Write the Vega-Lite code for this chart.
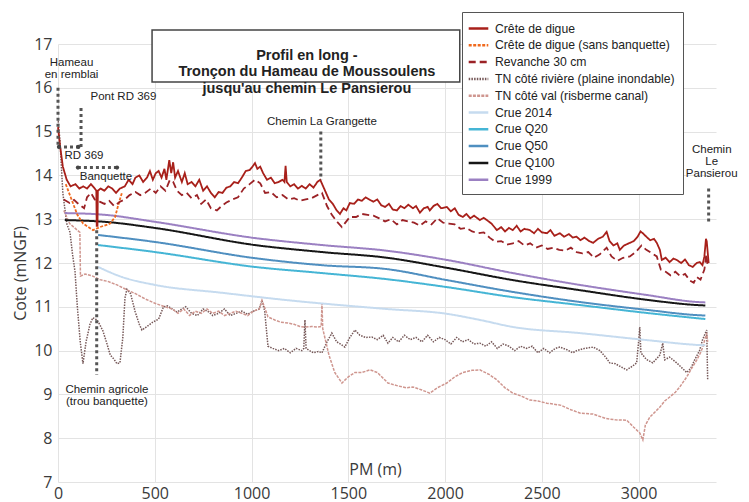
{
"$schema":"https://vega.github.io/schema/vega-lite/v6.json",
"width":658,"height":438,
"autosize":{"type":"none"},
"padding":{"left":58,"top":44,"right":33,"bottom":20},
"background":"white",
"config":{
 "view":{"stroke":null},
 "font":"Liberation Sans",
 "axis":{"grid":true,"gridColor":"#e3e3e3","gridWidth":1,"domain":false,"ticks":false,"labelFont":"Open Sans","labelFontSize":16,"labelColor":"#3a3a3a","titleFont":"Open Sans","titleFontSize":16,"titleFontWeight":"normal","titleColor":"#3a3a3a"}
},
"data":{"values":[
{"s":"C","pm":0,"z":15.1},{"s":"C","pm":10,"z":14.7},{"s":"C","pm":25,"z":14.2},{"s":"C","pm":45,"z":13.9},{"s":"C","pm":65,"z":13.75},{"s":"C","pm":90,"z":13.8},{"s":"C","pm":110,"z":13.7},{"s":"C","pm":130,"z":13.75},{"s":"C","pm":150,"z":13.7},{"s":"C","pm":170,"z":13.8},{"s":"C","pm":190,"z":13.7},{"s":"C","pm":198,"z":13.65},{"s":"C","pm":200,"z":12.85},{"s":"C","pm":204,"z":12.85},{"s":"C","pm":206,"z":13.65},{"s":"C","pm":220,"z":13.7},{"s":"C","pm":240,"z":13.65},{"s":"C","pm":260,"z":13.75},{"s":"C","pm":280,"z":13.7},{"s":"C","pm":300,"z":13.6},{"s":"C","pm":320,"z":13.7},{"s":"C","pm":345,"z":13.75},{"s":"C","pm":365,"z":13.9},{"s":"C","pm":385,"z":13.8},{"s":"C","pm":400,"z":13.95},{"s":"C","pm":420,"z":14.0},{"s":"C","pm":440,"z":13.85},{"s":"C","pm":460,"z":13.95},{"s":"C","pm":475,"z":14.1},{"s":"C","pm":490,"z":13.9},{"s":"C","pm":505,"z":14.05},{"s":"C","pm":520,"z":14.1},{"s":"C","pm":535,"z":13.95},{"s":"C","pm":550,"z":14.15},{"s":"C","pm":560,"z":13.9},{"s":"C","pm":575,"z":14.35},{"s":"C","pm":585,"z":14.05},{"s":"C","pm":595,"z":14.3},{"s":"C","pm":605,"z":13.95},{"s":"C","pm":620,"z":14.1},{"s":"C","pm":640,"z":13.85},{"s":"C","pm":655,"z":14.05},{"s":"C","pm":670,"z":13.8},{"s":"C","pm":690,"z":13.85},{"s":"C","pm":710,"z":13.75},{"s":"C","pm":730,"z":13.9},{"s":"C","pm":750,"z":13.65},{"s":"C","pm":770,"z":13.75},{"s":"C","pm":790,"z":13.6},{"s":"C","pm":810,"z":13.5},{"s":"C","pm":830,"z":13.62},{"s":"C","pm":850,"z":13.6},{"s":"C","pm":870,"z":13.72},{"s":"C","pm":890,"z":13.75},{"s":"C","pm":910,"z":13.85},{"s":"C","pm":930,"z":13.82},{"s":"C","pm":950,"z":13.95},{"s":"C","pm":970,"z":14.1},{"s":"C","pm":990,"z":14.12},{"s":"C","pm":1005,"z":14.2},{"s":"C","pm":1018,"z":14.28},{"s":"C","pm":1030,"z":14.15},{"s":"C","pm":1045,"z":14.2},{"s":"C","pm":1060,"z":14.05},{"s":"C","pm":1080,"z":13.9},{"s":"C","pm":1100,"z":13.95},{"s":"C","pm":1120,"z":13.82},{"s":"C","pm":1140,"z":13.85},{"s":"C","pm":1160,"z":13.9},{"s":"C","pm":1170,"z":13.85},{"s":"C","pm":1176,"z":14.22},{"s":"C","pm":1182,"z":13.85},{"s":"C","pm":1200,"z":13.75},{"s":"C","pm":1220,"z":13.8},{"s":"C","pm":1240,"z":13.7},{"s":"C","pm":1260,"z":13.76},{"s":"C","pm":1280,"z":13.7},{"s":"C","pm":1300,"z":13.8},{"s":"C","pm":1320,"z":13.72},{"s":"C","pm":1340,"z":13.85},{"s":"C","pm":1355,"z":13.9},{"s":"C","pm":1370,"z":13.75},{"s":"C","pm":1385,"z":13.6},{"s":"C","pm":1400,"z":13.45},{"s":"C","pm":1420,"z":13.35},{"s":"C","pm":1440,"z":13.2},{"s":"C","pm":1457,"z":13.12},{"s":"C","pm":1475,"z":13.25},{"s":"C","pm":1490,"z":13.2},{"s":"C","pm":1508,"z":13.37},{"s":"C","pm":1530,"z":13.35},{"s":"C","pm":1550,"z":13.45},{"s":"C","pm":1570,"z":13.42},{"s":"C","pm":1590,"z":13.5},{"s":"C","pm":1612,"z":13.44},{"s":"C","pm":1630,"z":13.4},{"s":"C","pm":1650,"z":13.45},{"s":"C","pm":1670,"z":13.32},{"s":"C","pm":1690,"z":13.28},{"s":"C","pm":1710,"z":13.35},{"s":"C","pm":1730,"z":13.22},{"s":"C","pm":1751,"z":13.2},{"s":"C","pm":1770,"z":13.3},{"s":"C","pm":1790,"z":13.25},{"s":"C","pm":1810,"z":13.33},{"s":"C","pm":1834,"z":13.25},{"s":"C","pm":1850,"z":13.3},{"s":"C","pm":1870,"z":13.15},{"s":"C","pm":1890,"z":13.25},{"s":"C","pm":1910,"z":13.28},{"s":"C","pm":1921,"z":13.2},{"s":"C","pm":1940,"z":13.3},{"s":"C","pm":1960,"z":13.35},{"s":"C","pm":1980,"z":13.25},{"s":"C","pm":2009,"z":13.28},{"s":"C","pm":2030,"z":13.18},{"s":"C","pm":2050,"z":13.25},{"s":"C","pm":2070,"z":13.1},{"s":"C","pm":2092,"z":13.05},{"s":"C","pm":2110,"z":13.12},{"s":"C","pm":2130,"z":13.02},{"s":"C","pm":2150,"z":13.08},{"s":"C","pm":2180,"z":12.98},{"s":"C","pm":2200,"z":13.03},{"s":"C","pm":2216,"z":12.98},{"s":"C","pm":2240,"z":12.9},{"s":"C","pm":2268,"z":12.75},{"s":"C","pm":2290,"z":12.82},{"s":"C","pm":2310,"z":12.72},{"s":"C","pm":2330,"z":12.8},{"s":"C","pm":2350,"z":12.75},{"s":"C","pm":2370,"z":12.85},{"s":"C","pm":2390,"z":12.72},{"s":"C","pm":2410,"z":12.78},{"s":"C","pm":2438,"z":12.75},{"s":"C","pm":2460,"z":12.68},{"s":"C","pm":2480,"z":12.78},{"s":"C","pm":2500,"z":12.7},{"s":"C","pm":2526,"z":12.68},{"s":"C","pm":2545,"z":12.75},{"s":"C","pm":2565,"z":12.62},{"s":"C","pm":2593,"z":12.68},{"s":"C","pm":2615,"z":12.6},{"s":"C","pm":2640,"z":12.66},{"s":"C","pm":2660,"z":12.58},{"s":"C","pm":2680,"z":12.6},{"s":"C","pm":2700,"z":12.52},{"s":"C","pm":2720,"z":12.58},{"s":"C","pm":2745,"z":12.5},{"s":"C","pm":2765,"z":12.46},{"s":"C","pm":2790,"z":12.55},{"s":"C","pm":2815,"z":12.6},{"s":"C","pm":2835,"z":12.71},{"s":"C","pm":2850,"z":12.5},{"s":"C","pm":2870,"z":12.4},{"s":"C","pm":2890,"z":12.45},{"s":"C","pm":2903,"z":12.3},{"s":"C","pm":2925,"z":12.4},{"s":"C","pm":2955,"z":12.46},{"s":"C","pm":2975,"z":12.5},{"s":"C","pm":2995,"z":12.6},{"s":"C","pm":3010,"z":12.72},{"s":"C","pm":3022,"z":12.68},{"s":"C","pm":3040,"z":12.6},{"s":"C","pm":3060,"z":12.52},{"s":"C","pm":3080,"z":12.55},{"s":"C","pm":3094,"z":12.46},{"s":"C","pm":3110,"z":12.3},{"s":"C","pm":3120,"z":12.07},{"s":"C","pm":3140,"z":12.12},{"s":"C","pm":3160,"z":12.02},{"s":"C","pm":3180,"z":12.1},{"s":"C","pm":3197,"z":12.07},{"s":"C","pm":3220,"z":12.0},{"s":"C","pm":3240,"z":12.08},{"s":"C","pm":3260,"z":11.95},{"s":"C","pm":3280,"z":11.91},{"s":"C","pm":3300,"z":12.0},{"s":"C","pm":3316,"z":12.02},{"s":"C","pm":3330,"z":11.95},{"s":"C","pm":3340,"z":12.15},{"s":"C","pm":3348,"z":12.55},{"s":"C","pm":3352,"z":12.5},{"s":"C","pm":3356,"z":12.3},{"s":"C","pm":3362,"z":12.0},
{"s":"S","pm":40,"z":13.8},{"s":"S","pm":70,"z":13.45},{"s":"S","pm":100,"z":13.1},{"s":"S","pm":130,"z":12.9},{"s":"S","pm":181,"z":12.75},{"s":"S","pm":217,"z":12.82},{"s":"S","pm":269,"z":12.9},{"s":"S","pm":295,"z":13.05},{"s":"S","pm":310,"z":13.3},{"s":"S","pm":330,"z":13.6},
{"s":"R","pm":30,"z":13.45},{"s":"R","pm":60,"z":13.37},{"s":"R","pm":83,"z":13.44},{"s":"R","pm":100,"z":13.37},{"s":"R","pm":120,"z":13.3},{"s":"R","pm":135,"z":13.25},{"s":"R","pm":150,"z":13.5},{"s":"R","pm":170,"z":13.6},{"s":"R","pm":190,"z":13.45},{"s":"R","pm":215,"z":13.4},{"s":"R","pm":240,"z":13.35},{"s":"R","pm":265,"z":13.42},{"s":"R","pm":290,"z":13.3},{"s":"R","pm":320,"z":13.4},{"s":"R","pm":345,"z":13.45},{"s":"R","pm":370,"z":13.55},{"s":"R","pm":400,"z":13.62},{"s":"R","pm":425,"z":13.55},{"s":"R","pm":450,"z":13.6},{"s":"R","pm":480,"z":13.7},{"s":"R","pm":505,"z":13.6},{"s":"R","pm":530,"z":13.75},{"s":"R","pm":555,"z":13.65},{"s":"R","pm":578,"z":13.9},{"s":"R","pm":595,"z":13.85},{"s":"R","pm":615,"z":13.65},{"s":"R","pm":640,"z":13.55},{"s":"R","pm":665,"z":13.6},{"s":"R","pm":690,"z":13.48},{"s":"R","pm":718,"z":13.55},{"s":"R","pm":740,"z":13.35},{"s":"R","pm":765,"z":13.45},{"s":"R","pm":790,"z":13.25},{"s":"R","pm":821,"z":13.2},{"s":"R","pm":845,"z":13.3},{"s":"R","pm":870,"z":13.38},{"s":"R","pm":900,"z":13.45},{"s":"R","pm":930,"z":13.5},{"s":"R","pm":960,"z":13.7},{"s":"R","pm":990,"z":13.8},{"s":"R","pm":1018,"z":13.9},{"s":"R","pm":1045,"z":13.82},{"s":"R","pm":1070,"z":13.6},{"s":"R","pm":1100,"z":13.62},{"s":"R","pm":1130,"z":13.5},{"s":"R","pm":1160,"z":13.55},{"s":"R","pm":1190,"z":13.45},{"s":"R","pm":1220,"z":13.48},{"s":"R","pm":1250,"z":13.42},{"s":"R","pm":1280,"z":13.45},{"s":"R","pm":1310,"z":13.48},{"s":"R","pm":1340,"z":13.55},{"s":"R","pm":1364,"z":13.6},{"s":"R","pm":1390,"z":13.3},{"s":"R","pm":1415,"z":13.1},{"s":"R","pm":1440,"z":12.95},{"s":"R","pm":1467,"z":12.82},{"s":"R","pm":1490,"z":12.95},{"s":"R","pm":1508,"z":13.05},{"s":"R","pm":1540,"z":13.05},{"s":"R","pm":1570,"z":13.12},{"s":"R","pm":1600,"z":13.1},{"s":"R","pm":1630,"z":13.08},{"s":"R","pm":1660,"z":13.02},{"s":"R","pm":1690,"z":12.95},{"s":"R","pm":1720,"z":13.0},{"s":"R","pm":1751,"z":12.88},{"s":"R","pm":1780,"z":12.98},{"s":"R","pm":1810,"z":12.95},{"s":"R","pm":1840,"z":12.92},{"s":"R","pm":1870,"z":12.85},{"s":"R","pm":1900,"z":12.95},{"s":"R","pm":1930,"z":12.88},{"s":"R","pm":1960,"z":13.02},{"s":"R","pm":1990,"z":12.92},{"s":"R","pm":2020,"z":12.9},{"s":"R","pm":2050,"z":12.88},{"s":"R","pm":2080,"z":12.78},{"s":"R","pm":2110,"z":12.8},{"s":"R","pm":2140,"z":12.72},{"s":"R","pm":2170,"z":12.68},{"s":"R","pm":2200,"z":12.7},{"s":"R","pm":2230,"z":12.58},{"s":"R","pm":2260,"z":12.48},{"s":"R","pm":2290,"z":12.5},{"s":"R","pm":2320,"z":12.42},{"s":"R","pm":2350,"z":12.45},{"s":"R","pm":2380,"z":12.5},{"s":"R","pm":2410,"z":12.4},{"s":"R","pm":2440,"z":12.45},{"s":"R","pm":2470,"z":12.35},{"s":"R","pm":2500,"z":12.4},{"s":"R","pm":2530,"z":12.32},{"s":"R","pm":2560,"z":12.35},{"s":"R","pm":2590,"z":12.3},{"s":"R","pm":2620,"z":12.28},{"s":"R","pm":2650,"z":12.35},{"s":"R","pm":2680,"z":12.25},{"s":"R","pm":2710,"z":12.22},{"s":"R","pm":2740,"z":12.25},{"s":"R","pm":2770,"z":12.12},{"s":"R","pm":2800,"z":12.2},{"s":"R","pm":2835,"z":12.35},{"s":"R","pm":2860,"z":12.15},{"s":"R","pm":2890,"z":12.05},{"s":"R","pm":2920,"z":12.12},{"s":"R","pm":2955,"z":12.15},{"s":"R","pm":2985,"z":12.25},{"s":"R","pm":3015,"z":12.4},{"s":"R","pm":3040,"z":12.3},{"s":"R","pm":3070,"z":12.22},{"s":"R","pm":3094,"z":12.15},{"s":"R","pm":3115,"z":11.85},{"s":"R","pm":3140,"z":11.8},{"s":"R","pm":3165,"z":11.72},{"s":"R","pm":3190,"z":11.8},{"s":"R","pm":3215,"z":11.7},{"s":"R","pm":3240,"z":11.75},{"s":"R","pm":3265,"z":11.6},{"s":"R","pm":3285,"z":11.55},{"s":"R","pm":3300,"z":11.68},{"s":"R","pm":3320,"z":11.62},{"s":"R","pm":3340,"z":11.85},{"s":"R","pm":3350,"z":12.2},{"s":"R","pm":3358,"z":11.9},
{"s":"TR","pm":0,"z":15.3},{"s":"TR","pm":10,"z":14.8},{"s":"TR","pm":25,"z":13.6},{"s":"TR","pm":45,"z":12.9},{"s":"TR","pm":62,"z":12.7},{"s":"TR","pm":75,"z":12.2},{"s":"TR","pm":88,"z":11.8},{"s":"TR","pm":100,"z":11.0},{"s":"TR","pm":115,"z":10.2},{"s":"TR","pm":129,"z":9.7},{"s":"TR","pm":145,"z":10.2},{"s":"TR","pm":165,"z":10.6},{"s":"TR","pm":180,"z":10.75},{"s":"TR","pm":201,"z":10.7},{"s":"TR","pm":215,"z":10.6},{"s":"TR","pm":232,"z":10.45},{"s":"TR","pm":250,"z":10.2},{"s":"TR","pm":270,"z":9.9},{"s":"TR","pm":290,"z":9.8},{"s":"TR","pm":305,"z":9.7},{"s":"TR","pm":320,"z":9.72},{"s":"TR","pm":335,"z":10.3},{"s":"TR","pm":346,"z":11.2},{"s":"TR","pm":356,"z":11.4},{"s":"TR","pm":375,"z":11.3},{"s":"TR","pm":398,"z":10.9},{"s":"TR","pm":420,"z":10.6},{"s":"TR","pm":434,"z":10.47},{"s":"TR","pm":460,"z":10.55},{"s":"TR","pm":490,"z":10.65},{"s":"TR","pm":520,"z":10.72},{"s":"TR","pm":545,"z":11.0},{"s":"TR","pm":565,"z":11.02},{"s":"TR","pm":590,"z":10.95},{"s":"TR","pm":615,"z":10.88},{"s":"TR","pm":640,"z":10.95},{"s":"TR","pm":660,"z":11.0},{"s":"TR","pm":690,"z":10.85},{"s":"TR","pm":720,"z":10.8},{"s":"TR","pm":750,"z":10.95},{"s":"TR","pm":780,"z":10.88},{"s":"TR","pm":800,"z":10.8},{"s":"TR","pm":830,"z":10.85},{"s":"TR","pm":860,"z":10.95},{"s":"TR","pm":890,"z":10.8},{"s":"TR","pm":920,"z":10.85},{"s":"TR","pm":950,"z":10.9},{"s":"TR","pm":980,"z":10.83},{"s":"TR","pm":1010,"z":10.9},{"s":"TR","pm":1040,"z":10.95},{"s":"TR","pm":1054,"z":11.15},{"s":"TR","pm":1068,"z":10.9},{"s":"TR","pm":1085,"z":10.1},{"s":"TR","pm":1110,"z":10.05},{"s":"TR","pm":1140,"z":10.0},{"s":"TR","pm":1170,"z":10.05},{"s":"TR","pm":1200,"z":9.95},{"s":"TR","pm":1230,"z":10.05},{"s":"TR","pm":1260,"z":10.0},{"s":"TR","pm":1270,"z":10.05},{"s":"TR","pm":1276,"z":10.7},{"s":"TR","pm":1282,"z":10.05},{"s":"TR","pm":1300,"z":10.0},{"s":"TR","pm":1320,"z":9.95},{"s":"TR","pm":1345,"z":9.98},{"s":"TR","pm":1364,"z":9.95},{"s":"TR","pm":1390,"z":10.2},{"s":"TR","pm":1415,"z":10.4},{"s":"TR","pm":1440,"z":10.2},{"s":"TR","pm":1460,"z":10.15},{"s":"TR","pm":1482,"z":10.08},{"s":"TR","pm":1508,"z":10.3},{"s":"TR","pm":1534,"z":10.47},{"s":"TR","pm":1560,"z":10.35},{"s":"TR","pm":1590,"z":10.3},{"s":"TR","pm":1622,"z":10.31},{"s":"TR","pm":1650,"z":10.25},{"s":"TR","pm":1680,"z":10.35},{"s":"TR","pm":1705,"z":10.17},{"s":"TR","pm":1730,"z":10.3},{"s":"TR","pm":1760,"z":10.2},{"s":"TR","pm":1790,"z":10.35},{"s":"TR","pm":1820,"z":10.25},{"s":"TR","pm":1850,"z":10.3},{"s":"TR","pm":1880,"z":10.2},{"s":"TR","pm":1910,"z":10.35},{"s":"TR","pm":1940,"z":10.2},{"s":"TR","pm":1970,"z":10.3},{"s":"TR","pm":2000,"z":10.25},{"s":"TR","pm":2030,"z":10.15},{"s":"TR","pm":2060,"z":10.3},{"s":"TR","pm":2090,"z":10.2},{"s":"TR","pm":2120,"z":10.25},{"s":"TR","pm":2150,"z":10.15},{"s":"TR","pm":2180,"z":10.17},{"s":"TR","pm":2210,"z":10.1},{"s":"TR","pm":2240,"z":10.2},{"s":"TR","pm":2270,"z":10.05},{"s":"TR","pm":2300,"z":10.15},{"s":"TR","pm":2330,"z":10.1},{"s":"TR","pm":2360,"z":10.0},{"s":"TR","pm":2390,"z":10.1},{"s":"TR","pm":2420,"z":10.05},{"s":"TR","pm":2450,"z":10.1},{"s":"TR","pm":2480,"z":9.95},{"s":"TR","pm":2510,"z":10.05},{"s":"TR","pm":2540,"z":9.95},{"s":"TR","pm":2570,"z":10.05},{"s":"TR","pm":2593,"z":10.08},{"s":"TR","pm":2630,"z":10.02},{"s":"TR","pm":2660,"z":9.95},{"s":"TR","pm":2680,"z":10.0},{"s":"TR","pm":2720,"z":10.05},{"s":"TR","pm":2765,"z":10.08},{"s":"TR","pm":2800,"z":10.0},{"s":"TR","pm":2830,"z":9.85},{"s":"TR","pm":2851,"z":9.72},{"s":"TR","pm":2880,"z":9.7},{"s":"TR","pm":2900,"z":9.65},{"s":"TR","pm":2939,"z":9.56},{"s":"TR","pm":2970,"z":9.65},{"s":"TR","pm":2990,"z":9.72},{"s":"TR","pm":3000,"z":10.2},{"s":"TR","pm":3006,"z":10.54},{"s":"TR","pm":3012,"z":9.95},{"s":"TR","pm":3040,"z":9.8},{"s":"TR","pm":3073,"z":9.72},{"s":"TR","pm":3100,"z":9.85},{"s":"TR","pm":3110,"z":9.9},{"s":"TR","pm":3125,"z":10.17},{"s":"TR","pm":3135,"z":9.79},{"s":"TR","pm":3160,"z":9.85},{"s":"TR","pm":3197,"z":9.72},{"s":"TR","pm":3225,"z":9.6},{"s":"TR","pm":3249,"z":9.5},{"s":"TR","pm":3270,"z":9.6},{"s":"TR","pm":3290,"z":9.79},{"s":"TR","pm":3315,"z":10.0},{"s":"TR","pm":3330,"z":10.24},{"s":"TR","pm":3352,"z":10.47},{"s":"TR","pm":3357,"z":9.33},
{"s":"TV","pm":30,"z":13.2},{"s":"TV","pm":60,"z":12.9},{"s":"TV","pm":100,"z":12.75},{"s":"TV","pm":113,"z":12.7},{"s":"TV","pm":116,"z":11.7},{"s":"TV","pm":140,"z":11.75},{"s":"TV","pm":180,"z":11.7},{"s":"TV","pm":217,"z":11.62},{"s":"TV","pm":258,"z":11.58},{"s":"TV","pm":305,"z":11.5},{"s":"TV","pm":350,"z":11.4},{"s":"TV","pm":400,"z":11.3},{"s":"TV","pm":450,"z":11.18},{"s":"TV","pm":501,"z":11.08},{"s":"TV","pm":553,"z":11.0},{"s":"TV","pm":590,"z":10.95},{"s":"TV","pm":620,"z":10.85},{"s":"TV","pm":650,"z":10.95},{"s":"TV","pm":680,"z":10.8},{"s":"TV","pm":710,"z":10.9},{"s":"TV","pm":740,"z":10.85},{"s":"TV","pm":770,"z":10.95},{"s":"TV","pm":800,"z":10.85},{"s":"TV","pm":830,"z":10.9},{"s":"TV","pm":860,"z":10.8},{"s":"TV","pm":890,"z":10.85},{"s":"TV","pm":920,"z":10.9},{"s":"TV","pm":950,"z":10.85},{"s":"TV","pm":980,"z":10.8},{"s":"TV","pm":1010,"z":10.9},{"s":"TV","pm":1040,"z":10.95},{"s":"TV","pm":1054,"z":11.15},{"s":"TV","pm":1085,"z":10.77},{"s":"TV","pm":1120,"z":10.7},{"s":"TV","pm":1150,"z":10.65},{"s":"TV","pm":1188,"z":10.63},{"s":"TV","pm":1220,"z":10.6},{"s":"TV","pm":1250,"z":10.55},{"s":"TV","pm":1276,"z":10.54},{"s":"TV","pm":1310,"z":10.55},{"s":"TV","pm":1343,"z":10.54},{"s":"TV","pm":1360,"z":10.55},{"s":"TV","pm":1364,"z":11.08},{"s":"TV","pm":1368,"z":10.5},{"s":"TV","pm":1400,"z":9.9},{"s":"TV","pm":1430,"z":9.5},{"s":"TV","pm":1467,"z":9.26},{"s":"TV","pm":1500,"z":9.4},{"s":"TV","pm":1534,"z":9.5},{"s":"TV","pm":1570,"z":9.5},{"s":"TV","pm":1612,"z":9.56},{"s":"TV","pm":1650,"z":9.5},{"s":"TV","pm":1705,"z":9.26},{"s":"TV","pm":1751,"z":9.2},{"s":"TV","pm":1800,"z":9.15},{"s":"TV","pm":1834,"z":9.17},{"s":"TV","pm":1880,"z":9.1},{"s":"TV","pm":1921,"z":9.03},{"s":"TV","pm":1960,"z":9.15},{"s":"TV","pm":2009,"z":9.26},{"s":"TV","pm":2050,"z":9.4},{"s":"TV","pm":2092,"z":9.5},{"s":"TV","pm":2140,"z":9.55},{"s":"TV","pm":2180,"z":9.56},{"s":"TV","pm":2230,"z":9.45},{"s":"TV","pm":2268,"z":9.33},{"s":"TV","pm":2310,"z":9.15},{"s":"TV","pm":2350,"z":9.03},{"s":"TV","pm":2400,"z":8.95},{"s":"TV","pm":2438,"z":8.87},{"s":"TV","pm":2480,"z":8.85},{"s":"TV","pm":2526,"z":8.8},{"s":"TV","pm":2560,"z":8.78},{"s":"TV","pm":2600,"z":8.75},{"s":"TV","pm":2650,"z":8.65},{"s":"TV","pm":2700,"z":8.57},{"s":"TV","pm":2765,"z":8.55},{"s":"TV","pm":2830,"z":8.45},{"s":"TV","pm":2880,"z":8.42},{"s":"TV","pm":2939,"z":8.41},{"s":"TV","pm":2975,"z":8.25},{"s":"TV","pm":3006,"z":8.12},{"s":"TV","pm":3022,"z":7.96},{"s":"TV","pm":3035,"z":8.3},{"s":"TV","pm":3058,"z":8.48},{"s":"TV","pm":3085,"z":8.6},{"s":"TV","pm":3110,"z":8.71},{"s":"TV","pm":3135,"z":8.85},{"s":"TV","pm":3161,"z":8.94},{"s":"TV","pm":3190,"z":9.05},{"s":"TV","pm":3213,"z":9.17},{"s":"TV","pm":3249,"z":9.4},{"s":"TV","pm":3275,"z":9.6},{"s":"TV","pm":3301,"z":9.79},{"s":"TV","pm":3320,"z":9.95},{"s":"TV","pm":3332,"z":10.08},{"s":"TV","pm":3345,"z":10.3},{"s":"TV","pm":3352,"z":10.4},{"s":"TV","pm":3357,"z":10.2},
{"s":"E","pm":207,"z":11.91},{"s":"E","pm":331,"z":11.68},{"s":"E","pm":501,"z":11.5},{"s":"E","pm":847,"z":11.32},{"s":"E","pm":1188,"z":11.15},{"s":"E","pm":1700,"z":10.95},{"s":"E","pm":2009,"z":10.84},{"s":"E","pm":2180,"z":10.7},{"s":"E","pm":2350,"z":10.54},{"s":"E","pm":2696,"z":10.4},{"s":"E","pm":3042,"z":10.24},{"s":"E","pm":3301,"z":10.13},{"s":"E","pm":3345,"z":10.12},
{"s":"Q20","pm":207,"z":12.41},{"s":"Q20","pm":501,"z":12.25},{"s":"Q20","pm":1018,"z":11.91},{"s":"Q20","pm":1364,"z":11.77},{"s":"Q20","pm":1700,"z":11.63},{"s":"Q20","pm":2009,"z":11.45},{"s":"Q20","pm":2350,"z":11.22},{"s":"Q20","pm":2696,"z":11.04},{"s":"Q20","pm":3042,"z":10.86},{"s":"Q20","pm":3301,"z":10.74},{"s":"Q20","pm":3345,"z":10.72},
{"s":"Q50","pm":207,"z":12.64},{"s":"Q50","pm":501,"z":12.48},{"s":"Q50","pm":1018,"z":12.11},{"s":"Q50","pm":1364,"z":11.95},{"s":"Q50","pm":1700,"z":11.86},{"s":"Q50","pm":2009,"z":11.61},{"s":"Q50","pm":2350,"z":11.34},{"s":"Q50","pm":2696,"z":11.11},{"s":"Q50","pm":3042,"z":10.93},{"s":"Q50","pm":3301,"z":10.81},{"s":"Q50","pm":3345,"z":10.8},
{"s":"Q100","pm":35,"z":12.98},{"s":"Q100","pm":243,"z":12.94},{"s":"Q100","pm":501,"z":12.8},{"s":"Q100","pm":1018,"z":12.41},{"s":"Q100","pm":1364,"z":12.25},{"s":"Q100","pm":1700,"z":12.12},{"s":"Q100","pm":2009,"z":11.89},{"s":"Q100","pm":2350,"z":11.61},{"s":"Q100","pm":2696,"z":11.38},{"s":"Q100","pm":3042,"z":11.16},{"s":"Q100","pm":3301,"z":11.04},{"s":"Q100","pm":3345,"z":11.03},
{"s":"N","pm":35,"z":13.14},{"s":"N","pm":243,"z":13.1},{"s":"N","pm":501,"z":12.94},{"s":"N","pm":1018,"z":12.57},{"s":"N","pm":1364,"z":12.41},{"s":"N","pm":1700,"z":12.28},{"s":"N","pm":2009,"z":12.07},{"s":"N","pm":2350,"z":11.77},{"s":"N","pm":2696,"z":11.5},{"s":"N","pm":3042,"z":11.27},{"s":"N","pm":3301,"z":11.11},{"s":"N","pm":3345,"z":11.1}
]},
"transform":[{"lookup":"s","from":{"data":{"values":[
{"s":"C","serie":"Crête de digue"},{"s":"S","serie":"Crête de digue (sans banquette)"},{"s":"R","serie":"Revanche 30 cm"},{"s":"TR","serie":"TN côté rivière (plaine inondable)"},{"s":"TV","serie":"TN côté val (risberme canal)"},{"s":"E","serie":"Crue 2014"},{"s":"Q20","serie":"Crue Q20"},{"s":"Q50","serie":"Crue Q50"},{"s":"Q100","serie":"Crue Q100"},{"s":"N","serie":"Crue 1999"}]},"key":"s","fields":["serie"]}}],
"encoding":{
 "x":{"field":"pm","type":"quantitative","scale":{"domain":[0,3400],"nice":false,"zero":false},"axis":{"values":[0,500,1000,1500,2000,2500,3000],"format":"d","title":"PM (m)","labelFlush":false,"labelPadding":3,"titleX":317,"titleY":-8,"titleBaseline":"alphabetic","titleAlign":"center"}},
 "y":{"field":"z","type":"quantitative","scale":{"domain":[7,17],"nice":false,"zero":false},"axis":{"values":[7,8,9,10,11,12,13,14,15,16,17],"format":"d","title":"Cote (mNGF)","labelFlush":false,"labelPadding":6,"titleX":-30,"titleY":229,"titleAlign":"center","titleBaseline":"bottom"}}
},
"layer":[
 {"transform":[{"filter":{"field":"s","oneOf":["TR","TV"]}}],
  "mark":{"type":"line","strokeWidth":1.5},
  "encoding":{
   "color":{"field":"serie","type":"nominal","scale":{"domain":["Crête de digue","Crête de digue (sans banquette)","Revanche 30 cm","TN côté rivière (plaine inondable)","TN côté val (risberme canal)","Crue 2014","Crue Q20","Crue Q50","Crue Q100","Crue 1999"],"range":["#a8201a","#f06a1e","#9b2226","#765858","#cf968f","#c6dbef","#45b5d5","#4f8fc0","#161616","#9b80c2"]},
    "legend":{"title":null,"orient":"none","legendX":404,"legendY":-32,"strokeColor":"#555","fillColor":"white","padding":8,"labelFont":"Liberation Sans","labelFontSize":12.2,"labelColor":"#222","symbolType":"M-1.4,0L1.4,0","symbolSize":196,"symbolStrokeWidth":2.5,"labelOffset":8,"rowPadding":1.8,"labelLimit":300}},
   "strokeDash":{"field":"serie","type":"nominal","scale":{"domain":["Crête de digue","Crête de digue (sans banquette)","Revanche 30 cm","TN côté rivière (plaine inondable)","TN côté val (risberme canal)","Crue 2014","Crue Q20","Crue Q50","Crue Q100","Crue 1999"],"range":[[1,0],[3,1.5],[7,4],[1.5,1.2],[3,1.2],[1,0],[1,0],[1,0],[1,0],[1,0]]},
    "legend":{"title":null,"orient":"none","legendX":404,"legendY":-32,"strokeColor":"#555","fillColor":"white","padding":8,"labelFont":"Liberation Sans","labelFontSize":12.2,"labelColor":"#222","symbolType":"M-1.4,0L1.4,0","symbolSize":196,"symbolStrokeWidth":2.5,"labelOffset":8,"rowPadding":1.8,"labelLimit":300}}
  }},
 {"transform":[{"filter":{"field":"s","oneOf":["E","Q20","Q50","Q100","N"]}}],
  "mark":{"type":"line","strokeWidth":2,"interpolate":"monotone"},
  "encoding":{"color":{"field":"serie","type":"nominal"},"strokeDash":{"field":"serie","type":"nominal"}}},
 {"transform":[{"filter":{"field":"s","oneOf":["R","S","C"]}}],
  "mark":{"type":"line","strokeWidth":1.8},
  "encoding":{"color":{"field":"serie","type":"nominal"},"strokeDash":{"field":"serie","type":"nominal"}}},
 {"data":{"values":[
   {"pm":0,"pm2":0,"z":16.0,"z2":14.65},{"pm":0,"pm2":119,"z":14.65,"z2":14.65},{"pm":119,"pm2":119,"z":14.65,"z2":15.55},{"pm":103,"pm2":305,"z":14.18,"z2":14.18},{"pm":200,"pm2":200,"z":12.75,"z2":9.45},{"pm":1358,"pm2":1358,"z":15.0,"z2":13.9},{"pm":3362,"pm2":3362,"z":13.7,"z2":12.95}]},
  "mark":{"type":"rule","color":"#555","strokeWidth":3,"strokeDash":[3,3],"strokeCap":"butt"},
  "encoding":{"x2":{"field":"pm2"},"y2":{"field":"z2"}}},
 {"data":{"values":[{"pm":5,"z":14.65},{"pm":105,"z":14.65},{"pm":103,"z":14.18},{"pm":305,"z":14.18}]},
  "mark":{"type":"point","filled":true,"color":"#444","size":18,"opacity":1}},
 {"data":{"values":[
   {"pm":70,"z":16.56,"t":"Hameau\nen remblai"},{"pm":338,"z":15.79,"t":"Pont RD 369"},{"pm":134,"z":14.44,"t":"RD 369"},{"pm":248,"z":13.96,"t":"Banquette"},{"pm":1364,"z":15.22,"t":"Chemin La Grangette"},{"pm":253,"z":9.1,"t":"Chemin agricole\n(trou banquette)"},{"pm":3378,"z":14.58,"t":"Chemin\nLe\nPansierou"}]},
  "mark":{"type":"text","font":"Liberation Sans","fontSize":11.5,"color":"#222","align":"center","baseline":"middle","lineBreak":"\n","lineHeight":12},
  "encoding":{"text":{"field":"t"}}},
 {"data":{"values":[{"pm":486,"pm2":2076,"z":16.13,"z2":17.32}]},
  "mark":{"type":"rect","fill":"white","stroke":"#444","strokeWidth":1.5},
  "encoding":{"x2":{"field":"pm2"},"y2":{"field":"z2"}}},
 {"data":{"values":[{"pm":1286,"z":16.73,"t":"Profil en long -\nTronçon du Hameau de Moussoulens\njusqu'au chemin Le Pansierou"}]},
  "mark":{"type":"text","font":"Liberation Sans","fontSize":14.5,"fontWeight":"bold","color":"#222","align":"center","baseline":"middle","lineBreak":"\n","lineHeight":16.5},
  "encoding":{"text":{"field":"t"}}}
]
}
